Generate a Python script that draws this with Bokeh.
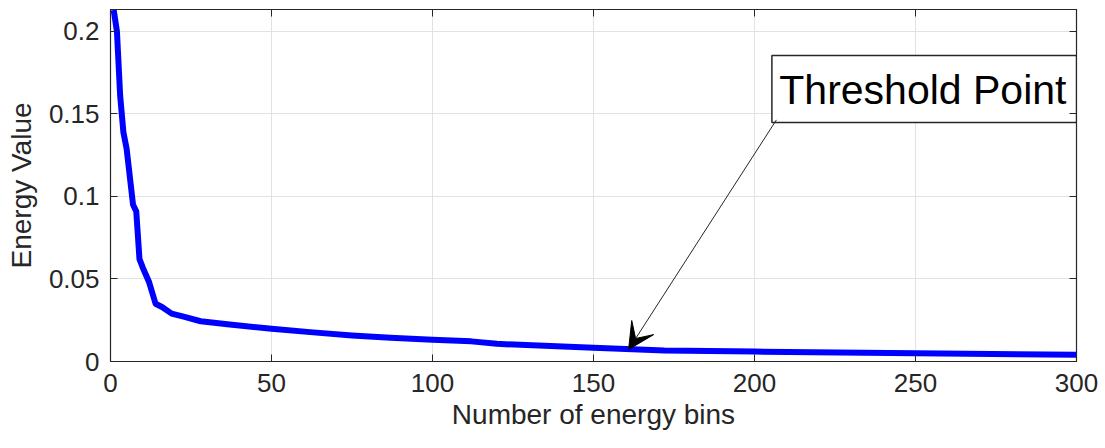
from bokeh.plotting import figure
from bokeh.models import (Range1d, LinearAxis, FixedTicker, Arrow, VeeHead,
                          ColumnDataSource)
from bokeh.core.properties import value
from bokeh.embed import file_html
from bokeh.resources import INLINE

# ---- data ----
bins = [1, 2, 3, 4, 5, 6, 7, 8, 9, 10, 12, 14, 16, 19, 23, 28, 37, 50, 62, 75,
        87, 100, 106, 112, 120, 150, 172, 200, 250, 300]
energy = [0.213, 0.200, 0.161, 0.139, 0.129, 0.112, 0.095, 0.091, 0.062, 0.057,
          0.048, 0.035, 0.033, 0.029, 0.027, 0.0244, 0.0224, 0.0198, 0.0178,
          0.0158, 0.0144, 0.0132, 0.0127, 0.0122, 0.0107, 0.0083, 0.0067,
          0.0060, 0.0050, 0.0041]
x_ticks = [0, 50, 100, 150, 200, 250, 300]
y_ticks = [0, 0.05, 0.1, 0.15, 0.2]
y_tick_labels = {0: "0", 0.05: "0.05", 0.1: "0.1", 0.15: "0.15", 0.2: "0.2"}
annotation_text = "Threshold Point"
arrow_tail = (206.8, 0.1464)
arrow_tip = (160.9, 0.0073)

FONT = "Liberation Sans"
TXT = "#262626"

p = figure(width=1105, height=448, output_backend="svg", toolbar_location=None,
           x_range=Range1d(0, 300), y_range=Range1d(0, 0.2133),
           min_border_left=110, min_border_right=29, min_border_top=9,
           min_border_bottom=87)
p.background_fill_color = "white"
p.border_fill_color = "white"
p.outline_line_color = TXT
p.outline_line_width = 1.2

for ax in (p.xaxis[0], p.yaxis[0]):
    ax.major_tick_in = 7
    ax.major_tick_out = 0
    ax.minor_tick_in = 0
    ax.minor_tick_out = 0
    ax.axis_line_color = TXT
    ax.major_tick_line_color = TXT
    ax.major_label_text_font = FONT
    ax.major_label_text_font_size = "26px"
    ax.major_label_text_color = TXT
    ax.axis_label_text_font = FONT
    ax.axis_label_text_font_size = "28px"
    ax.axis_label_text_color = TXT
    ax.axis_label_text_font_style = "normal"

p.xaxis[0].ticker = FixedTicker(ticks=x_ticks)
p.yaxis[0].ticker = FixedTicker(ticks=y_ticks)
p.yaxis[0].major_label_overrides = y_tick_labels
p.xaxis[0].axis_label = "Number of energy bins"
p.yaxis[0].axis_label = "Energy Value"
p.xaxis[0].major_label_standoff = 12
p.yaxis[0].major_label_standoff = 11
p.xaxis[0].axis_label_standoff = 4
p.yaxis[0].axis_label_standoff = 9

# box ticks on top and right
for loc, tick in (("right", y_ticks), ("above", x_ticks)):
    a = LinearAxis(ticker=FixedTicker(ticks=tick))
    a.major_tick_in = 7
    a.major_tick_out = 0
    a.minor_tick_in = 0
    a.minor_tick_out = 0
    a.major_label_text_font_size = "0px"
    a.major_label_text_color = None
    a.major_label_standoff = 0
    a.axis_line_color = TXT
    a.major_tick_line_color = TXT
    p.add_layout(a, loc)

p.xgrid.ticker = FixedTicker(ticks=x_ticks)
p.ygrid.ticker = FixedTicker(ticks=y_ticks)
p.grid.grid_line_color = "#e2e2e2"
p.grid.grid_line_width = 1

src = ColumnDataSource(dict(x=bins, y=energy))
p.line("x", "y", source=src, line_color="#0000ff", line_width=6,
       line_join="round")

# annotation box
p.quad(left=[205.4], right=[300], bottom=[0.1448], top=[0.1855],
       fill_color="white", line_color="#262626", line_width=1.5)
p.text(x=[207.7], y=[0.1645], text=[annotation_text],
       text_font=value(FONT), text_font_size="41px", text_color="black",
       text_baseline="middle", text_align="left")

p.add_layout(Arrow(x_start=arrow_tail[0], y_start=arrow_tail[1],
                   x_end=arrow_tip[0], y_end=arrow_tip[1],
                   line_color="#262626", line_width=1,
                   end=VeeHead(size=26, fill_color="black", line_color="black")))

open("out.html", "w").write(file_html(p, INLINE))
